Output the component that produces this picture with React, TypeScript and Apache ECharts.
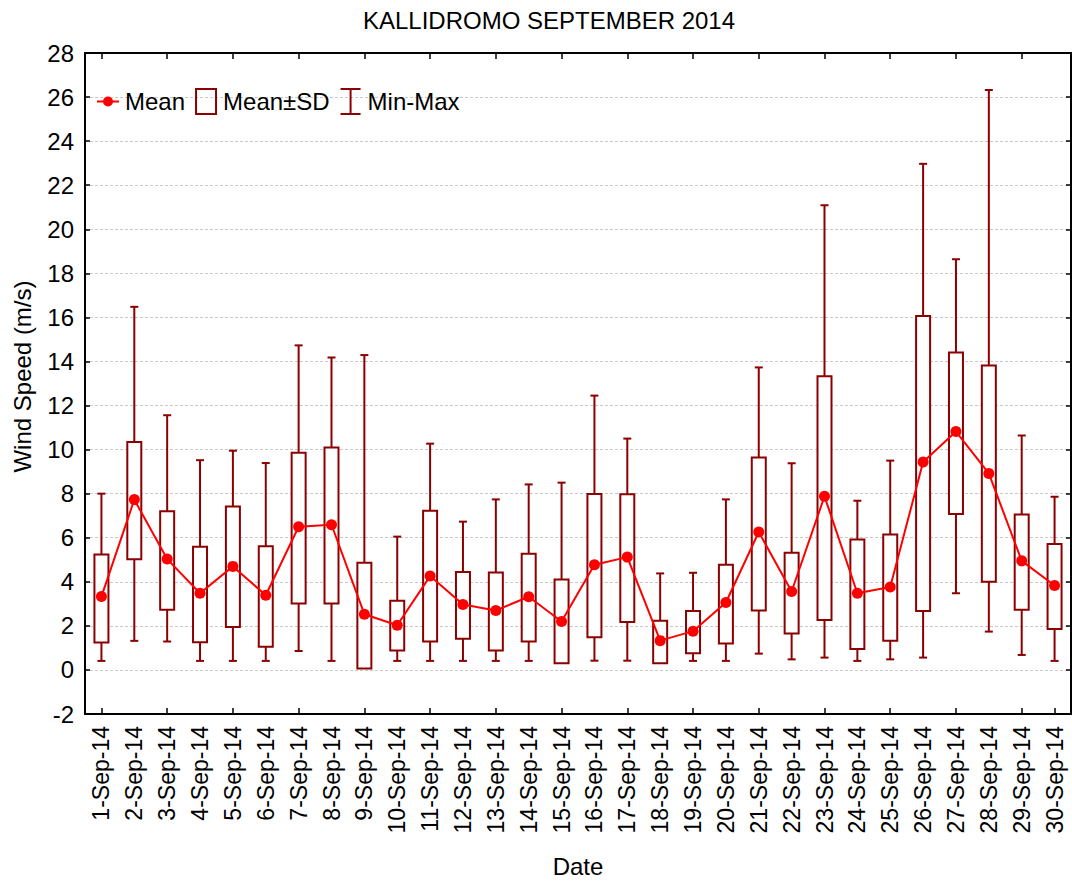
import React, { useEffect, useRef } from 'react';
import * as echarts from 'echarts';

const dates = [
  '1-Sep-14', '2-Sep-14', '3-Sep-14', '4-Sep-14', '5-Sep-14', '6-Sep-14', '7-Sep-14', '8-Sep-14',
  '9-Sep-14', '10-Sep-14', '11-Sep-14', '12-Sep-14', '13-Sep-14', '14-Sep-14', '15-Sep-14',
  '16-Sep-14', '17-Sep-14', '18-Sep-14', '19-Sep-14', '20-Sep-14', '21-Sep-14', '22-Sep-14',
  '23-Sep-14', '24-Sep-14', '25-Sep-14', '26-Sep-14', '27-Sep-14', '28-Sep-14', '29-Sep-14', '30-Sep-14',
];

const meanValues = [
  3.33, 7.73, 5.03, 3.48, 4.7, 3.39, 6.5, 6.59, 2.53, 2.03,
  4.26, 2.97, 2.7, 3.32, 2.2, 4.77, 5.12, 1.33, 1.76, 3.06,
  6.26, 3.56, 7.88, 3.48, 3.76, 9.44, 10.82, 8.92, 4.95, 3.83,
];

const sdHigh = [
  5.24, 10.35, 7.2, 5.59, 7.42, 5.61, 9.86, 10.09, 4.86, 3.14,
  7.23, 4.45, 4.42, 5.27, 4.11, 7.98, 7.97, 2.23, 2.68, 4.77,
  9.64, 5.32, 13.33, 5.92, 6.15, 16.06, 14.41, 13.82, 7.06, 5.71,
];

const sdLow = [
  1.24, 5.02, 2.73, 1.26, 1.95, 1.05, 3.02, 3.02, 0.06, 0.88,
  1.29, 1.41, 0.88, 1.29, 0.3, 1.48, 2.17, 0.3, 0.76, 1.2,
  2.7, 1.65, 2.27, 0.95, 1.32, 2.67, 7.08, 4.0, 2.73, 1.86,
];

const maxValues = [
  8.0, 16.48, 11.56, 9.52, 9.95, 9.39, 14.73, 14.18, 14.29, 6.05,
  10.27, 6.73, 7.74, 8.42, 8.5, 12.45, 10.5, 4.38, 4.41, 7.74,
  13.73, 9.38, 21.09, 7.68, 9.5, 22.97, 18.64, 26.32, 10.64, 7.86,
];

const minValues = [
  0.41, 1.32, 1.29, 0.41, 0.41, 0.41, 0.86, 0.41, 0.41, 0.41,
  0.41, 0.41, 0.41, 0.41, 0.41, 0.42, 0.42, 0.41, 0.41, 0.41,
  0.74, 0.48, 0.56, 0.41, 0.48, 0.56, 3.48, 1.74, 0.68, 0.41,
];

const Y_MIN = -2;
const Y_MAX = 28;
const Y_STEP = 2;

export default function App() {
  const ref = useRef<HTMLDivElement>(null);

  useEffect(() => {
    if (!ref.current) return;
    const chart = echarts.init(ref.current, null, { renderer: 'svg' });
    const DARK = '#8b0000';
    const RED = '#ff0000';
    const FONT = "'Liberation Sans', Arial, sans-serif";

    const whiskerData = dates.map((_, i) => [i, minValues[i], maxValues[i]]);
    const boxData = dates.map((_, i) => [i, sdLow[i], sdHigh[i]]);

    const xAxisCommon = {
      type: 'category',
      data: dates,
      boundaryGap: true,
      axisLine: { show: true, onZero: false, lineStyle: { color: '#000', width: 2 } },
      axisTick: { show: true, inside: true, length: 6, interval: 1, alignWithLabel: true, lineStyle: { color: '#000', width: 1.5 } },
      splitLine: { show: false },
    };

    chart.setOption({
      animation: false,
      backgroundColor: '#ffffff',
      textStyle: { fontFamily: FONT, color: '#000' },
      title: {
        text: 'KALLIDROMO SEPTEMBER 2014',
        left: 544,
        textAlign: 'center',
        top: 3,
        textStyle: { fontFamily: FONT, fontSize: 24, fontWeight: 'normal', color: '#000' },
      },
      legend: {
        left: 92,
        top: 83,
        itemWidth: 22,
        itemHeight: 25,
        itemGap: 10,
        symbolKeepAspect: true,
        textStyle: { fontFamily: FONT, fontSize: 24, color: '#000', padding: [0, 0, 0, 1] },
        data: [
          {
            name: 'Mean',
            icon: 'path://M0,11.5H22V13.5H0Z M16,12.5A5,5 0 1 1 6,12.5A5,5 0 1 1 16,12.5Z',
            itemStyle: { color: RED, borderWidth: 0 },
          },
          {
            name: 'Mean±SD',
            icon: 'path://M0,0H20V25H0Z',
            itemStyle: { color: 'transparent', borderColor: DARK, borderWidth: 2 },
          },
          {
            name: 'Min-Max',
            icon: 'path://M0,0H20M10,0V25M0,25H20',
            itemStyle: { color: 'transparent', borderColor: DARK, borderWidth: 2 },
          },
        ],
      },
      grid: { left: 85, right: 1, top: 53, bottom: 169, containLabel: false },
      xAxis: [
        {
          ...xAxisCommon,
          position: 'bottom',
          name: 'Date',
          nameLocation: 'middle',
          nameGap: 140,
          nameTextStyle: { fontFamily: FONT, fontSize: 24, color: '#000' },
          axisLabel: { interval: 0, rotate: 90, margin: 12, fontFamily: FONT, fontSize: 23, color: '#000' },
        },
        {
          ...xAxisCommon,
          position: 'top',
          axisLabel: { show: false },
        },
      ],
      yAxis: [
        {
          type: 'value',
          min: Y_MIN,
          max: Y_MAX,
          interval: Y_STEP,
          position: 'left',
          name: 'Wind Speed (m/s)',
          nameLocation: 'middle',
          nameGap: 51,
          nameTextStyle: { fontFamily: FONT, fontSize: 24, color: '#000', padding: [0, 0, 0, 14] },
          axisLine: { show: true, onZero: false, lineStyle: { color: '#000', width: 2 } },
          axisTick: { show: true, inside: true, length: 5, lineStyle: { color: '#000', width: 1.5 } },
          axisLabel: { margin: 11, fontFamily: FONT, fontSize: 24, color: '#000' },
          splitLine: { show: true, lineStyle: { color: '#c8c8c8', type: [3, 2], width: 1 } },
        },
        {
          type: 'value',
          min: Y_MIN,
          max: Y_MAX,
          interval: Y_STEP,
          position: 'right',
          axisLine: { show: true, onZero: false, lineStyle: { color: '#000', width: 2 } },
          axisTick: { show: true, inside: true, length: 5, lineStyle: { color: '#000', width: 1.5 } },
          axisLabel: { show: false },
          splitLine: { show: false },
        },
      ],
      series: [
        {
          name: 'Min-Max',
          type: 'custom',
          xAxisIndex: 0,
          yAxisIndex: 0,
          z: 2,
          encode: { x: 0, y: [1, 2] },
          data: whiskerData,
          itemStyle: { color: DARK },
          renderItem: (params: any, api: any) => {
            const i = api.value(0);
            const lo = api.coord([i, api.value(1)]);
            const hi = api.coord([i, api.value(2)]);
            const x = lo[0];
            const style = { stroke: DARK, lineWidth: 2, fill: 'none' };
            return {
              type: 'group',
              children: [
                { type: 'line', shape: { x1: x, y1: lo[1], x2: x, y2: hi[1] }, style },
                { type: 'line', shape: { x1: x - 4, y1: lo[1], x2: x + 4, y2: lo[1] }, style },
                { type: 'line', shape: { x1: x - 4, y1: hi[1], x2: x + 4, y2: hi[1] }, style },
              ],
            };
          },
        },
        {
          name: 'Mean±SD',
          type: 'custom',
          xAxisIndex: 0,
          yAxisIndex: 0,
          z: 3,
          encode: { x: 0, y: [1, 2] },
          data: boxData,
          itemStyle: { color: DARK },
          renderItem: (params: any, api: any) => {
            const i = api.value(0);
            const lo = api.coord([i, api.value(1)]);
            const hi = api.coord([i, api.value(2)]);
            return {
              type: 'rect',
              shape: { x: lo[0] - 7, y: hi[1], width: 14, height: lo[1] - hi[1] },
              style: { fill: '#ffffff', stroke: DARK, lineWidth: 2 },
            };
          },
        },
        {
          name: 'Mean',
          type: 'line',
          xAxisIndex: 0,
          yAxisIndex: 0,
          z: 5,
          data: meanValues,
          symbol: 'circle',
          symbolSize: 11,
          showSymbol: true,
          itemStyle: { color: RED },
          lineStyle: { color: RED, width: 2 },
        },
      ],
    });

    return () => chart.dispose();
  }, []);

  return (
    <div
      ref={ref}
      style={{ position: 'fixed', left: 0, top: 0, width: 1072, height: 883 }}
    />
  );
}
